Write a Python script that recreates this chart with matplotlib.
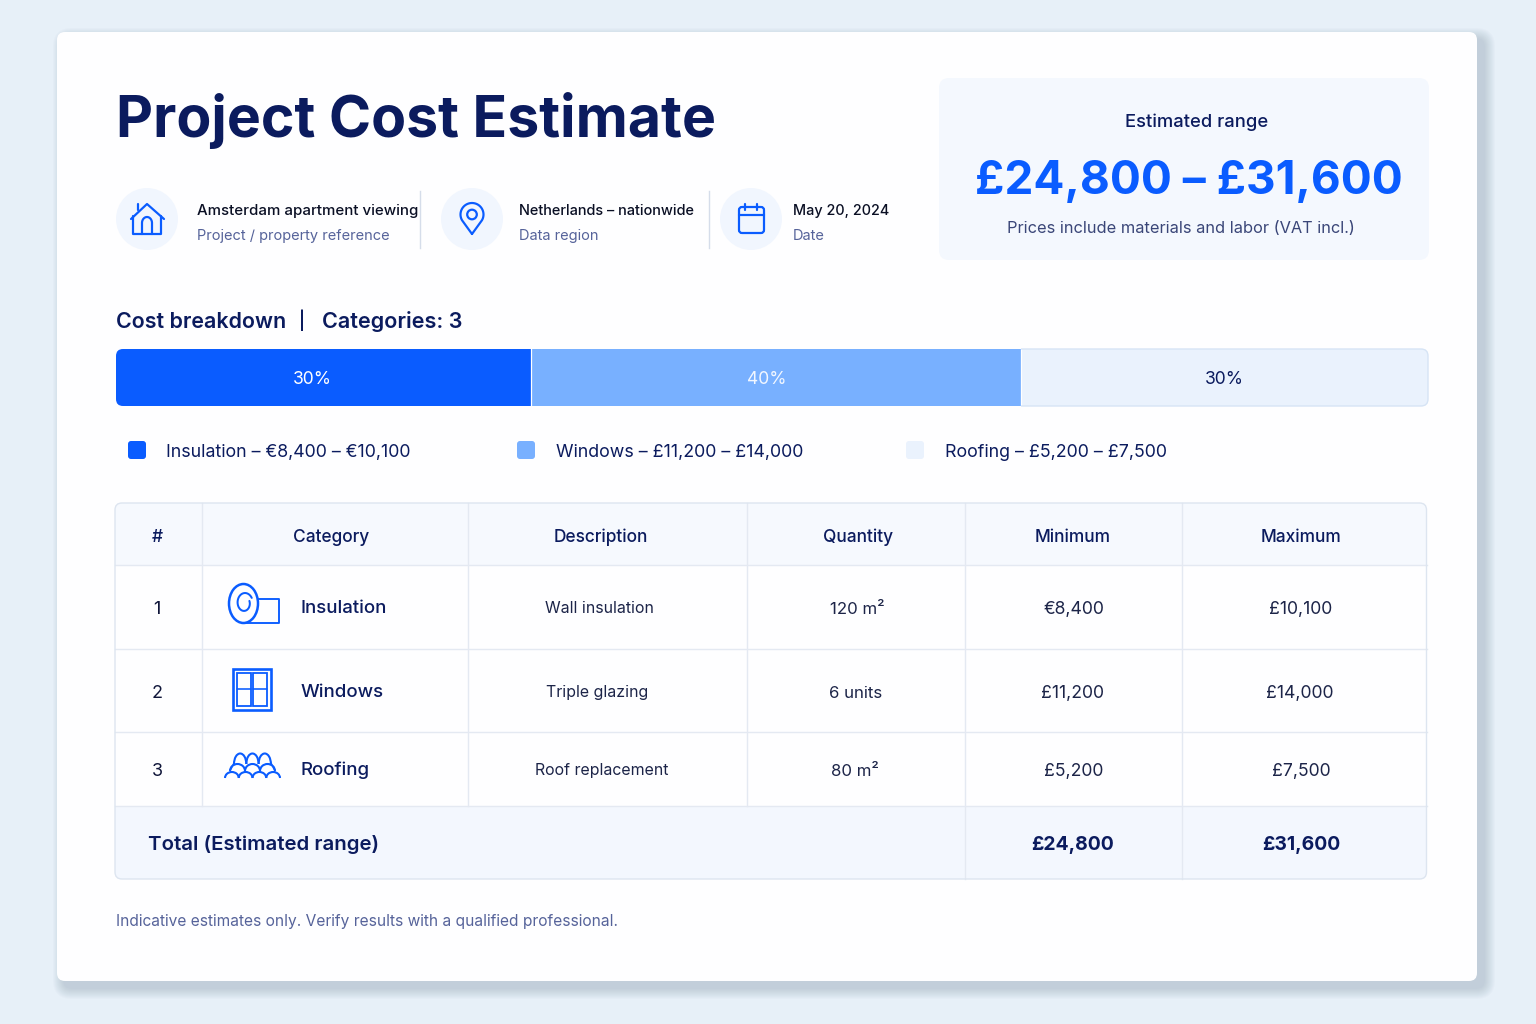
#!/usr/bin/env python3
"""
Project cost estimate card, drawn on a pixel sized canvas
"""
import numpy as np
import matplotlib
matplotlib.use('Agg')
import matplotlib.pyplot as plt
from matplotlib.patches import FancyBboxPatch, Circle, Rectangle, Arc, Ellipse

plt.rcParams['font.family'] = ['Inter', 'DejaVu Sans']

W, H = 1536, 1024

# --- data ---
title = "Project Cost Estimate"
meta_titles = ["Amsterdam apartment viewing", "Netherlands – nationwide", "May 20, 2024"]
meta_subs = ["Project / property reference", "Data region", "Date"]
range_label = "Estimated range"
range_value = "£24,800 – £31,600"
range_note = "Prices include materials and labor (VAT incl.)"

# drawn widths of the bar segments, labels are what it prints
segment_widths = [31.65, 37.35, 31.0]
segment_labels = ["30%", "40%", "30%"]
legend_labels = ["Insulation – €8,400 – €10,100", "Windows – £11,200 – £14,000", "Roofing – £5,200 – £7,500"]

headers = ["#", "Category", "Description", "Quantity", "Minimum", "Maximum"]
row_ids = ["1", "2", "3"]
categories = ["Insulation", "Windows", "Roofing"]
descriptions = ["Wall insulation", "Triple glazing", "Roof replacement"]
quantities = ["120 m²", "6 units", "80 m²"]
minimums = ["€8,400", "£11,200", "£5,200"]
maximums = ["£10,100", "£14,000", "£7,500"]
total_label = "Total (Estimated range)"
total_min = "£24,800"
total_max = "£31,600"
footnote = "Indicative estimates only. Verify results with a qualified professional."

# --- colours ---
BG = '#E7F0F8'
NAVY = '#0B1B5E'
BLUE = '#0A5CFF'
MID = '#78B0FF'
PALE = '#EAF2FD'
PANEL = '#F4F8FE'
SUB = '#56639A'
GRID = '#E4E9F2'
INK = '#1A2350'
segment_colors = [BLUE, MID, PALE]
segment_text = ['white', '#F2F7FF', NAVY]

fig = plt.figure(figsize=(W / 100, H / 100), dpi=100, facecolor=BG)
ax = fig.add_axes([0, 0, 1, 1])
ax.set_xlim(0, W)
ax.set_ylim(H, 0)
ax.axis('off')


def px(size):
    return size * 0.72


def rbox(x0, y0, x1, y1, r, fc='none', ec='none', lw=0, z=1, alpha=None):
    p = FancyBboxPatch((x0 + r, y0 + r), x1 - x0 - 2 * r, y1 - y0 - 2 * r,
                       boxstyle=f"round,pad={r},rounding_size={r}",
                       fc=fc, ec=ec, lw=lw, zorder=z, alpha=alpha)
    ax.add_patch(p)
    return p


def label(x, y, s, size, color=INK, weight='normal', ha='center', target=None):
    # y is the optical middle of the text, placed through its baseline
    target = target or ax
    return target.text(x, y + size * 0.36, s, fontsize=px(size), color=color, fontweight=weight,
                       ha=ha, va='baseline', zorder=6)


def stroke(xs, ys, lw=2.2, color=BLUE):
    ax.plot(xs, ys, color=color, lw=lw * 0.72, solid_capstyle='round',
            solid_joinstyle='round', zorder=6)


# card with a soft shadow towards the lower right
for k in range(11, 0, -1):
    rbox(57 + 7 - k, 32 + 7 - k, 1477 + 7 + k, 981 + 7 + k, 8 + k, fc='#5A6E8C', alpha=0.024, z=1)
rbox(57, 32, 1477, 981, 8, fc='#FEFEFF', z=2)

# header
label(116, 116, title, 57.2, color=NAVY, weight='bold', ha='left')

rbox(939, 78, 1429, 260, 10, fc=PANEL, z=3)
label(1197, 120.5, range_label, 18.4, color=NAVY, weight='medium')
label(1188.5, 177, range_value, 46, color=BLUE, weight='bold')
label(1181, 227.5, range_note, 16.4, color='#3A4678')

# meta row
for cx in (147, 472, 751):
    ax.add_patch(Circle((cx, 219), 31, fc='#F1F6FE', ec='none', zorder=3))
for x in (419.5, 708.5):
    ax.plot([x, x], [191, 248], color='#D5DDEA', lw=1, zorder=3)
meta_x = [197, 519, 793]
meta_sizes = [15.0, 14.5, 14.4]
for x, a, b, sz in zip(meta_x, meta_titles, meta_subs, meta_sizes):
    label(x, 210, a, sz, color='#0A0F24', weight='medium', ha='left')
    label(x, 235, b, 14.6, color=SUB, ha='left')

# house icon
stroke([131, 147, 164], [219, 204, 219])
stroke([133, 133, 161, 161], [216, 234, 234, 216])
stroke([138, 138], [210, 204])
t = np.linspace(0, np.pi, 30)
stroke(np.r_[142, 147 - 5 * np.cos(t), 152], np.r_[234, 223 - 6 * np.sin(t), 234])

# pin icon
t = np.linspace(np.radians(210), np.radians(-30), 40)
stroke(np.r_[472, 472 + 11.5 * np.cos(t), 472], np.r_[234, 214.5 - 11.5 * np.sin(t), 234])
ax.add_patch(Circle((472, 214.5), 4.8, fc='none', ec=BLUE, lw=1.6, zorder=6))

# calendar icon
rbox(739, 207, 764, 233, 3, ec=BLUE, lw=1.6, z=6)
stroke([739, 764], [214.5, 214.5])
stroke([745, 745], [204, 210])
stroke([757, 757], [204, 210])

# section title
label(116, 320.5, "Cost breakdown", 21.4, color=NAVY, weight='semibold', ha='left')
label(302, 321, "|", 17, color=NAVY, weight='semibold')
label(322, 320.5, "Categories: 3", 21.6, color=NAVY, weight='semibold', ha='left')

# stacked bar on its own axes, percentage scale
bar_ax = fig.add_axes([116 / W, 1 - 406 / H, (1428 - 116) / W, 57 / H], zorder=3)
bar_ax.set_xlim(0, sum(segment_widths))
bar_ax.set_ylim(0, 1)
bar_ax.axis('off')
clip = rbox(116, 349, 1428, 406, 7, fc='none', z=0)
left = 0
for w, c in zip(segment_widths, segment_colors):
    seg = bar_ax.barh(0.5, w, left=left, height=1, color=c, edgecolor='none')[0]
    seg.set_clip_path(clip)
    left += w
    if left < sum(segment_widths):
        bar_ax.axvline(left, color='white', lw=0.9)

outline = fig.add_axes([0, 0, 1, 1], zorder=4)
outline.set_xlim(0, W)
outline.set_ylim(H, 0)
outline.axis('off')
edge = FancyBboxPatch((123, 356), 1298, 43, boxstyle="round,pad=7,rounding_size=7",
                      fc='none', ec='#D6E4F5', lw=1)
outline.add_patch(edge)
# the border only shows around the pale segment
edge.set_clip_path(Rectangle((1021, 340), 420, 75, transform=outline.transData))
for x, s, tc in zip((312, 767, 1224), segment_labels, segment_text):
    label(x, 378, s, 17.5, color=tc, target=outline)

# legend
for x, lab, c, tx in zip((128, 517, 906), legend_labels, segment_colors, (166, 556, 945)):
    rbox(x, 441, x + 18, 459, 3, fc=c, z=4)
    label(tx, 450.5, lab, 17.8, color=NAVY, ha='left')

# table
col_x = [115, 202, 468, 747, 965, 1181.5, 1426.5]
row_y = [503, 565, 649, 731.5, 806, 879]
T_L, T_R, T_T, T_B = col_x[0], col_x[-1], row_y[0], row_y[-1]

frame = rbox(T_L, T_T, T_R, T_B, 7, fc='#FEFEFF', z=3)
head_bg = Rectangle((T_L, T_T), T_R - T_L, row_y[1] - T_T, fc='#F6F9FE', ec='none', zorder=3)
foot_bg = Rectangle((T_L, row_y[4]), T_R - T_L, T_B - row_y[4], fc='#F3F7FE', ec='none', zorder=3)
ax.add_patch(head_bg)
ax.add_patch(foot_bg)
head_bg.set_clip_path(frame)
foot_bg.set_clip_path(frame)

for y in row_y[1:5]:
    ax.plot([T_L, T_R], [y, y], color=GRID, lw=1, zorder=4)
for i, x in enumerate(col_x[1:-1]):
    y_end = row_y[4] if i < 3 else T_B
    ax.plot([x, x], [T_T, y_end], color=GRID, lw=1, zorder=4)
rbox(T_L, T_T, T_R, T_B, 7, ec='#DDE5F0', lw=1, z=5)

head_cx = [157, 331, 600.5, 858, 1072.5, 1301]
for x, h in zip(head_cx, headers):
    label(x, 536, h, 17.3, color=NAVY, weight='medium')

row_mid = [607, 691, 769]
desc_x = [599, 597, 602]
qty_x = [857, 856, 855]
min_x = [1074, 1073, 1074]
max_x = [1301, 1300, 1301]
for i, y in enumerate(row_mid):
    label(157, y + 0.7, row_ids[i], 18, color='#10163A')
    label(301, y - 0.5, categories[i], 18.7, color=NAVY, weight='medium', ha='left')
    label(desc_x[i], y, descriptions[i], 15.9, color='#1C2448')
    label(qty_x[i], y + 0.5, quantities[i], 16.8, color='#1C2448')
    label(min_x[i], y + 0.7, minimums[i], 17.6, color='#1C2448')
    label(max_x[i], y + 0.7, maximums[i], 17.6, color='#1C2448')

label(148, 843, total_label, 20.4, color=NAVY, weight='semibold', ha='left')
label(1073, 843, total_min, 19.4, color=NAVY, weight='bold')
label(1301.5, 843, total_max, 19.4, color=NAVY, weight='bold')

# roll icon
stroke([256, 279, 279, 245], [599, 599, 622.5, 622.5], lw=1.9)
ax.add_patch(Ellipse((243.5, 603.5), 29, 39, fc='#FEFEFF', ec=BLUE, lw=1.8, zorder=6))
t = np.linspace(0.5, 6.6, 50)
shrink = 1 - 0.06 * t
stroke(244.5 + 8.5 * shrink * np.cos(t), 603 - 11 * shrink * np.sin(t), lw=2)

# window icon
ax.add_patch(Rectangle((233, 669), 38, 41, fc='none', ec=BLUE, lw=1.9, zorder=6))
for x0 in (237, 253):
    ax.add_patch(Rectangle((x0, 673), 13.5, 33, fc='none', ec=BLUE, lw=1.3, zorder=6))
    stroke([x0, x0 + 13.5], [688.5, 688.5], lw=1.6)

# roof tile icon
for n, x0, y0, step, tall in ((4, 225, 778, 13.75, 12), (3, 230, 771, 15, 14), (3, 234, 764, 12.3, 21)):
    for j in range(n):
        ax.add_patch(Arc((x0 + step * (j + 0.5), y0), step, tall, theta1=180, theta2=360,
                         ec=BLUE, lw=1.5, zorder=6))
stroke([230, 234], [771, 763], lw=1.5)
stroke([275, 271], [771, 763], lw=1.5)

label(116, 920.5, footnote, 15.5, color=SUB, ha='left')

fig.savefig('out.png', dpi=100, facecolor=BG)
plt.close(fig)
